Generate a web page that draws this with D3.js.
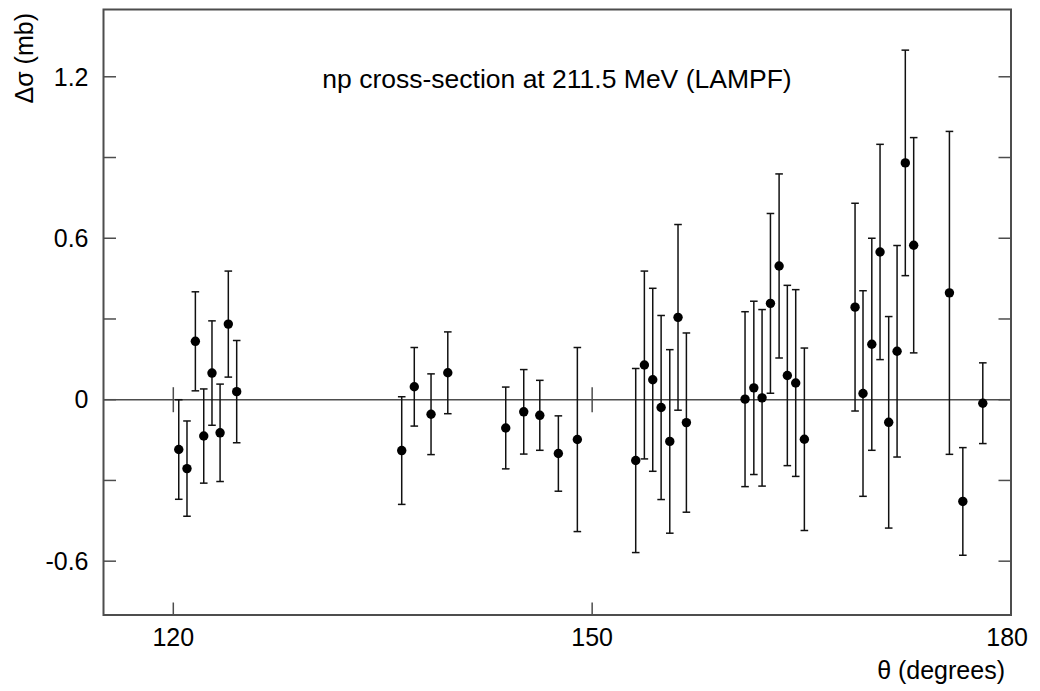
<!DOCTYPE html>
<html>
<head>
<meta charset="utf-8">
<script src="https://cdn.jsdelivr.net/npm/d3@7"></script>
<style>
  body { margin: 0; background: #ffffff; }
  text { font-family: "Liberation Sans", Arial, sans-serif; fill: #000000; }
</style>
</head>
<body>
<div id="chart"></div>
<script>
    // Data
    const theta = [120.39, 120.98, 121.58, 122.18, 122.77, 123.35, 123.94, 124.54,
                   136.36, 137.26, 138.46, 139.66,
                   143.81, 145.10, 146.25, 147.58, 148.94,
                   153.12, 153.74, 154.34, 154.94, 155.56, 156.15, 156.75,
                   160.95, 161.58, 162.17, 162.77, 163.39, 163.98, 164.58, 165.20,
                   168.83, 169.40, 170.03, 170.62, 171.24, 171.84, 172.43, 173.03,
                   175.59, 176.55, 177.98];
    const dsigma = [-0.185, -0.256, 0.217, -0.135, 0.099, -0.123, 0.281, 0.030,
                    -0.189, 0.048, -0.054, 0.100,
                    -0.105, -0.045, -0.058, -0.200, -0.148,
                    -0.226, 0.129, 0.074, -0.029, -0.155, 0.306, -0.085,
                    0.002, 0.044, 0.007, 0.358, 0.497, 0.090, 0.062, -0.147,
                    0.344, 0.023, 0.206, 0.549, -0.084, 0.180, 0.880, 0.574,
                    0.397, -0.378, -0.013];
    const errors = [0.185, 0.177, 0.184, 0.175, 0.194, 0.181, 0.197, 0.190,
                    0.200, 0.146, 0.150, 0.152,
                    0.152, 0.157, 0.130, 0.140, 0.342,
                    0.342, 0.349, 0.340, 0.342, 0.341, 0.345, 0.333,
                    0.325, 0.322, 0.328, 0.334, 0.342, 0.335, 0.347, 0.339,
                    0.386, 0.382, 0.394, 0.400, 0.393, 0.393, 0.419, 0.400,
                    0.600, 0.200, 0.150];

    const xTicks = [120, 150, 180];
    const yTicks = [-0.6, -0.3, 0, 0.3, 0.6, 0.9, 1.2];
    const yLabels = ["-0.6", "0", "0.6", "1.2"];

    const titleText = "np cross-section at 211.5 MeV (LAMPF)";
    const xTitle = "\u03b8 (degrees)";
    const yTitle = "\u0394\u03c3 (mb)";

    // Layout
    const width = 1040;
    const height = 691;
    const margin = {top: 9.5, right: 29, bottom: 76, left: 103.5};
    const tickLen = 12.5;
    const frameColor = "#4d4d4d";
    const fontSize = 25;

    var svg = d3.select("#chart")
        .append("svg")
        .attr("width", width)
        .attr("height", height);

    const x = d3.scaleLinear()
        .domain([115, 180])
        .range([margin.left, width - margin.right]);

    const y = d3.scaleLinear()
        .domain([-0.8, 1.45])
        .range([height - margin.bottom, margin.top]);

    let plot = svg.append("g");

    // zero line
    plot.append("line")
        .attr("x1", x(115)).attr("x2", x(180))
        .attr("y1", y(0)).attr("y2", y(0))
        .attr("stroke", frameColor)
        .attr("stroke-width", 1.5);

    // small marks on the zero line
    plot.selectAll(".zmark")
        .data(xTicks)
        .enter()
        .append("line")
        .attr("x1", d => x(d)).attr("x2", d => x(d))
        .attr("y1", y(0) - tickLen).attr("y2", y(0) + tickLen)
        .attr("stroke", frameColor)
        .attr("stroke-width", 1.5);

    // left and right ticks (inside)
    plot.selectAll(".ltick")
        .data(yTicks)
        .enter()
        .append("line")
        .attr("x1", x(115)).attr("x2", x(115) + tickLen)
        .attr("y1", d => y(d)).attr("y2", d => y(d))
        .attr("stroke", frameColor)
        .attr("stroke-width", 1.5);

    plot.selectAll(".rtick")
        .data(yTicks)
        .enter()
        .append("line")
        .attr("x1", x(180)).attr("x2", x(180) - tickLen)
        .attr("y1", d => y(d)).attr("y2", d => y(d))
        .attr("stroke", frameColor)
        .attr("stroke-width", 1.5);

    // bottom ticks
    plot.selectAll(".btick")
        .data(xTicks)
        .enter()
        .append("line")
        .attr("x1", d => x(d)).attr("x2", d => x(d))
        .attr("y1", y(-0.8)).attr("y2", y(-0.8) - tickLen)
        .attr("stroke", frameColor)
        .attr("stroke-width", 1.5);

    // frame
    plot.append("rect")
        .attr("x", x(115))
        .attr("y", y(1.45))
        .attr("width", x(180) - x(115))
        .attr("height", y(-0.8) - y(1.45))
        .attr("fill", "none")
        .attr("stroke", frameColor)
        .attr("stroke-width", 2);

    // tick labels
    plot.selectAll(".ylab")
        .data(yLabels)
        .enter()
        .append("text")
        .attr("x", x(115) - 15)
        .attr("y", d => y(+d))
        .attr("dy", "0.35em")
        .attr("text-anchor", "end")
        .style("font-size", fontSize + "px")
        .text(d => d);

    plot.selectAll(".xlab")
        .data(xTicks)
        .enter()
        .append("text")
        .attr("x", d => d === 180 ? x(d) + 17 : x(d))
        .attr("y", 646)
        .attr("text-anchor", d => d === 180 ? "end" : "middle")
        .style("font-size", fontSize + "px")
        .text(d => d);

    // axis titles
    svg.append("text")
        .attr("x", 1005)
        .attr("y", 679)
        .attr("text-anchor", "end")
        .style("font-size", fontSize + "px")
        .text(xTitle);

    svg.append("text")
        .attr("transform", "translate(33,13) rotate(-90)")
        .attr("text-anchor", "end")
        .style("font-size", fontSize + "px")
        .text(yTitle);

    svg.append("text")
        .attr("x", 557)
        .attr("y", 88)
        .attr("text-anchor", "middle")
        .style("font-size", "26.5px")
        .text(titleText);

    // error bars
    const points = theta.map((t, i) => ({t: t, v: dsigma[i], e: errors[i]}));
    const capW = 3.8;

    let bars = plot.selectAll(".bar")
        .data(points)
        .enter()
        .append("g")
        .attr("stroke", "#111111")
        .attr("stroke-width", 1.5);

    bars.append("line")
        .attr("x1", d => x(d.t)).attr("x2", d => x(d.t))
        .attr("y1", d => y(d.v + d.e)).attr("y2", d => y(d.v - d.e));
    bars.append("line")
        .attr("x1", d => x(d.t) - capW).attr("x2", d => x(d.t) + capW)
        .attr("y1", d => y(d.v + d.e)).attr("y2", d => y(d.v + d.e));
    bars.append("line")
        .attr("x1", d => x(d.t) - capW).attr("x2", d => x(d.t) + capW)
        .attr("y1", d => y(d.v - d.e)).attr("y2", d => y(d.v - d.e));

    plot.selectAll(".dot")
        .data(points)
        .enter()
        .append("circle")
        .attr("cx", d => x(d.t))
        .attr("cy", d => y(d.v))
        .attr("r", 4.7)
        .attr("fill", "#000000");
</script>
</body>
</html>
